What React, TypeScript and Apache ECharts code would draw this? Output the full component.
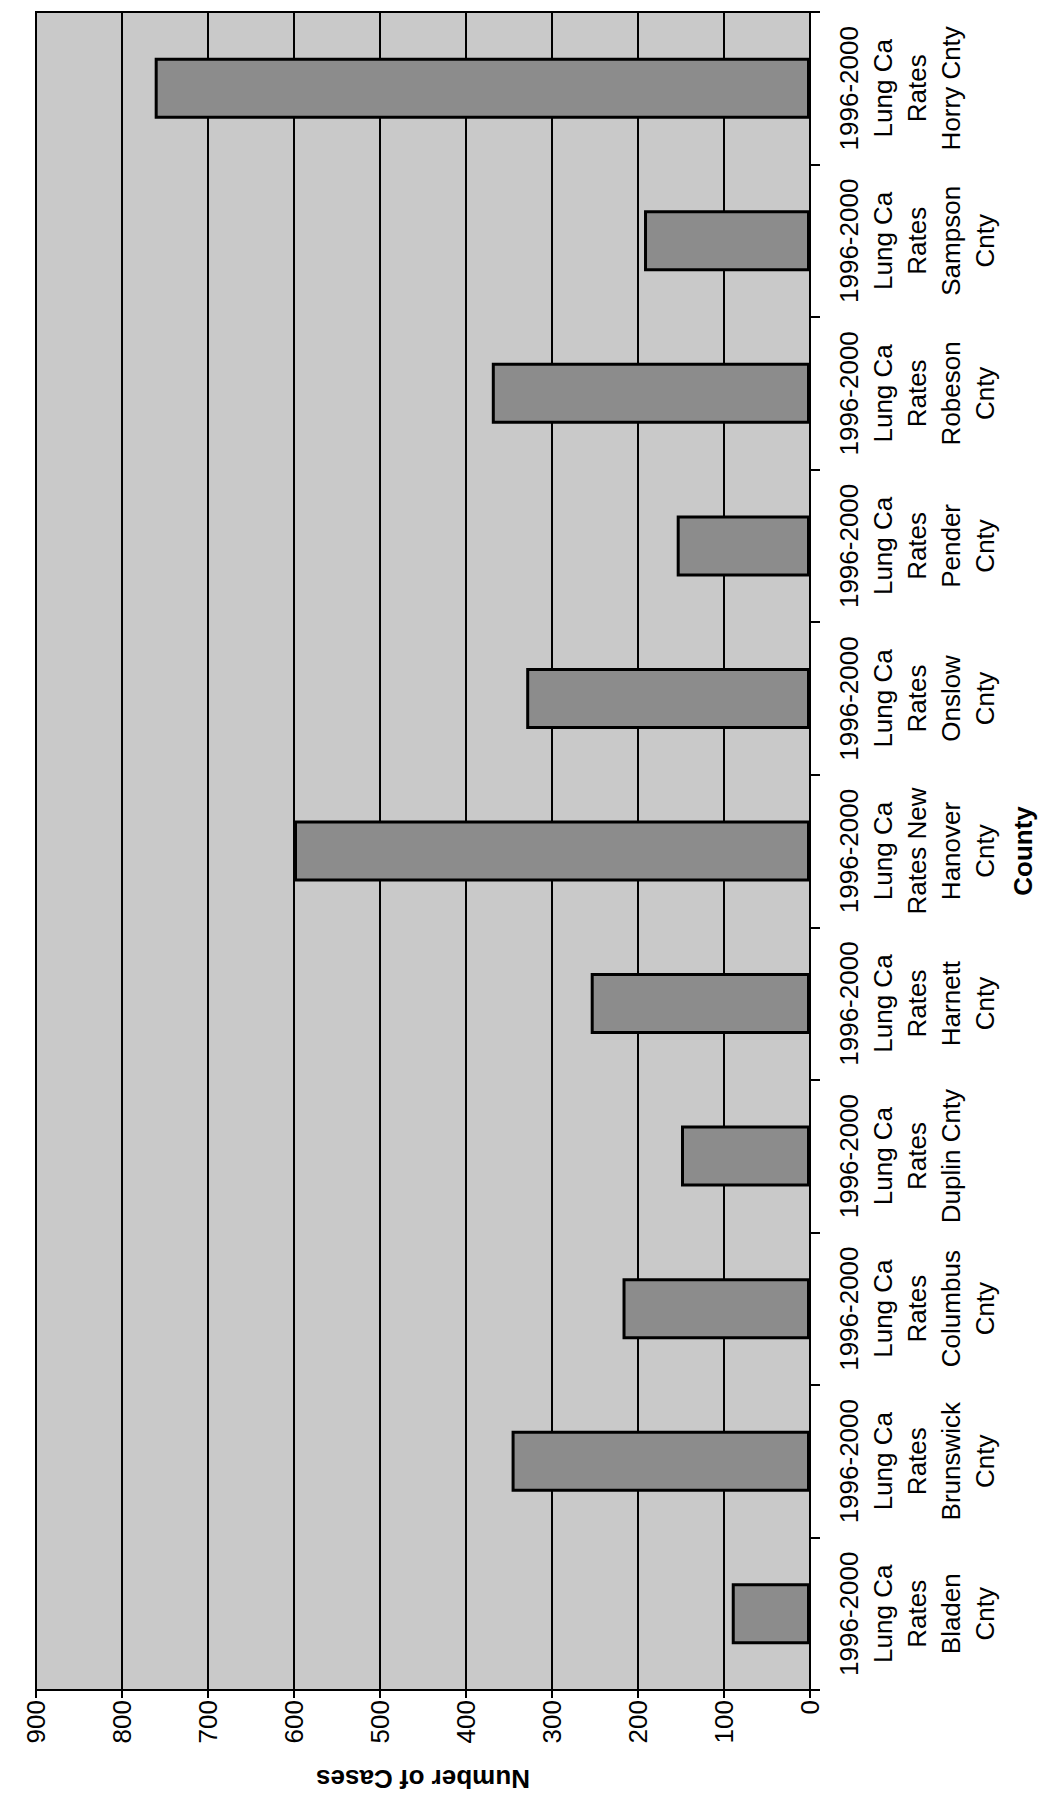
import React, { useEffect, useRef } from "react";
import * as echarts from "echarts";

const categories = [
  "1996-2000 Lung Ca Rates Bladen Cnty",
  "1996-2000 Lung Ca Rates Brunswick Cnty",
  "1996-2000 Lung Ca Rates Columbus Cnty",
  "1996-2000 Lung Ca Rates Duplin Cnty",
  "1996-2000 Lung Ca Rates Harnett Cnty",
  "1996-2000 Lung Ca Rates New Hanover Cnty",
  "1996-2000 Lung Ca Rates Onslow Cnty",
  "1996-2000 Lung Ca Rates Pender Cnty",
  "1996-2000 Lung Ca Rates Robeson Cnty",
  "1996-2000 Lung Ca Rates Sampson Cnty",
  "1996-2000 Lung Ca Rates Horry Cnty",
];

const categoryLabels = [
  "1996-2000\nLung Ca\nRates\nBladen\nCnty",
  "1996-2000\nLung Ca\nRates\nBrunswick\nCnty",
  "1996-2000\nLung Ca\nRates\nColumbus\nCnty",
  "1996-2000\nLung Ca\nRates\nDuplin Cnty",
  "1996-2000\nLung Ca\nRates\nHarnett\nCnty",
  "1996-2000\nLung Ca\nRates New\nHanover\nCnty",
  "1996-2000\nLung Ca\nRates\nOnslow\nCnty",
  "1996-2000\nLung Ca\nRates\nPender\nCnty",
  "1996-2000\nLung Ca\nRates\nRobeson\nCnty",
  "1996-2000\nLung Ca\nRates\nSampson\nCnty",
  "1996-2000\nLung Ca\nRates\nHorry Cnty",
];

const cases = [91, 347, 218, 150, 255, 600, 330, 155, 370, 193, 762];

const valueMin = 0;
const valueMax = 900;
const valueStep = 100;

const FONT = "'Liberation Sans', Arial, sans-serif";

export default function App() {
  const ref = useRef<HTMLDivElement>(null);

  useEffect(() => {
    if (!ref.current) return;
    const chart = echarts.init(ref.current, undefined, { renderer: "svg" });
    const labelMap: Record<string, string> = {};
    categories.forEach((c, i) => (labelMap[c] = categoryLabels[i]));

    chart.setOption({
      animation: false,
      backgroundColor: "#ffffff",
      textStyle: { fontFamily: FONT },
      grid: {
        left: 36,
        top: 12,
        width: 774,
        height: 1678,
        show: true,
        backgroundColor: "#c9c9c9",
        borderColor: "#000000",
        borderWidth: 2,
      },
      xAxis: {
        type: "value",
        position: "bottom",
        inverse: true,
        min: valueMin,
        max: valueMax,
        interval: valueStep,
        name: "Number of Cases",
        nameLocation: "middle",
        nameRotate: 180,
        nameGap: 76,
        nameTextStyle: {
          fontFamily: FONT,
          fontSize: 26,
          fontWeight: "bold",
          color: "#000000",
        },
        axisLine: { show: true, lineStyle: { color: "#000000", width: 2 } },
        axisTick: {
          show: true,
          length: 8,
          lineStyle: { color: "#000000", width: 2 },
        },
        axisLabel: {
          rotate: 90,
          margin: 10,
          fontFamily: FONT,
          fontSize: 26,
          color: "#000000",
        },
        splitLine: { show: true, lineStyle: { color: "#000000", width: 2 } },
      },
      yAxis: {
        type: "category",
        position: "right",
        data: categories,
        name: "County",
        nameLocation: "middle",
        nameRotate: 90,
        nameGap: 200,
        nameTextStyle: {
          fontFamily: FONT,
          fontSize: 26,
          fontWeight: "bold",
          color: "#000000",
        },
        axisLine: { show: true, lineStyle: { color: "#000000", width: 2 } },
        axisTick: {
          show: true,
          length: 10,
          lineStyle: { color: "#000000", width: 2 },
        },
        axisLabel: {
          rotate: 90,
          margin: 22,
          interval: 0,
          fontFamily: FONT,
          fontSize: 26,
          lineHeight: 34,
          color: "#000000",
          align: "center",
          formatter: (v: string) => labelMap[v] || v,
        },
        splitLine: { show: false },
      },
      series: [
        {
          type: "bar",
          data: cases,
          barWidth: "40%",
          itemStyle: {
            color: "#8c8c8c",
            borderColor: "#000000",
            borderWidth: 3,
          },
        },
      ],
    });
    return () => chart.dispose();
  }, []);

  return (
    <div
      ref={ref}
      style={{
        position: "absolute",
        left: 0,
        top: 0,
        width: 1055,
        height: 1809,
      }}
    />
  );
}
